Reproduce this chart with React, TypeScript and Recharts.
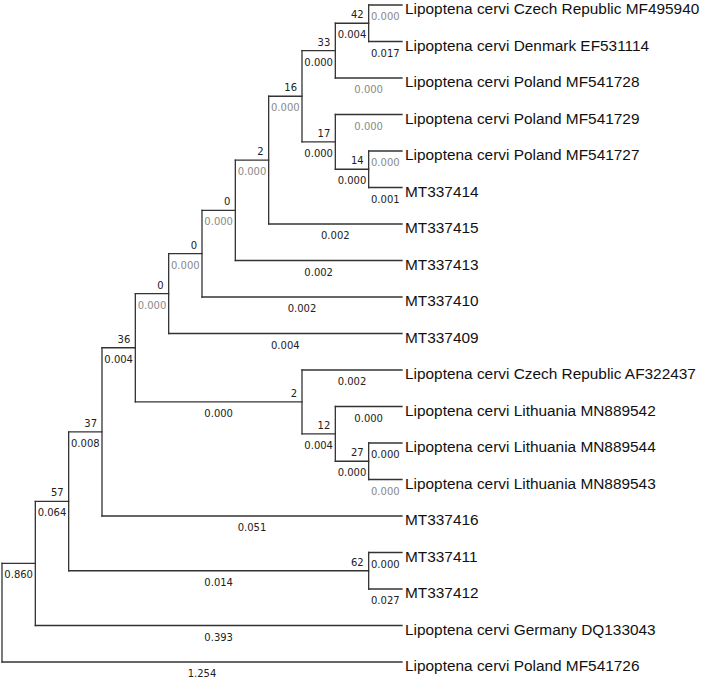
import React from "react";
import { ScatterChart, Scatter, XAxis, YAxis, ReferenceLine } from "recharts";

// tips, top to bottom
const taxa = [
  "Lipoptena cervi Czech Republic MF495940",
  "Lipoptena cervi Denmark EF531114",
  "Lipoptena cervi Poland MF541728",
  "Lipoptena cervi Poland MF541729",
  "Lipoptena cervi Poland MF541727",
  "MT337414",
  "MT337415",
  "MT337413",
  "MT337410",
  "MT337409",
  "Lipoptena cervi Czech Republic AF322437",
  "Lipoptena cervi Lithuania MN889542",
  "Lipoptena cervi Lithuania MN889544",
  "Lipoptena cervi Lithuania MN889543",
  "MT337416",
  "MT337411",
  "MT337412",
  "Lipoptena cervi Germany DQ133043",
  "Lipoptena cervi Poland MF541726",
];
const tipLengths = [
  "0.000", "0.017", "0.000", "0.000", "0.000", "0.001", "0.002", "0.002", "0.002", "0.004",
  "0.002", "0.000", "0.000", "0.000", "0.051", "0.000", "0.027", "0.393", "1.254",
];
const tipMuted = [
  true, false, true, true, true, false, false, false, false, false,
  false, false, false, true, false, false, false, false, false,
];

// internal nodes: children are tip indexes or clade ids
const cladeIds = [
  "c42", "c33", "c14", "c17", "c16", "c2a", "c0a", "c0b", "c0c",
  "c27", "c12", "c2b", "c36", "c37", "c62", "c57", "c1", "root",
];
const cladeChildren: (number | string)[][] = [
  [0, 1], ["c42", 2], [4, 5], [3, "c14"], ["c33", "c17"], ["c16", 6], ["c2a", 7], ["c0a", 8], ["c0b", 9],
  [12, 13], [11, "c27"], [10, "c12"], ["c0c", "c2b"], ["c36", 14], [15, 16], ["c37", "c62"], ["c57", 17], ["c1", 18],
];
const cladeSupport = ["42", "33", "14", "17", "16", "2", "0", "0", "0", "27", "12", "2", "36", "37", "62", "57", "", ""];
const cladeLengths = [
  "0.004", "0.000", "0.000", "0.000", "0.000", "0.000", "0.000", "0.000", "0.000",
  "0.000", "0.004", "0.000", "0.004", "0.008", "0.014", "0.064", "0.860", "",
];
const cladeMuted = [
  false, false, false, false, true, true, true, true, true,
  false, false, false, false, false, false, false, false, false,
];

type Ref = number | string;

const kids = (r: Ref) => cladeChildren[cladeIds.indexOf(r as string)];
const height = (r: Ref): number => (typeof r === "number" ? 0 : 1 + Math.max(...kids(r).map(height)));
const yOf = (r: Ref): number => {
  if (typeof r === "number") return r;
  const c = kids(r);
  return (yOf(c[0]) + yOf(c[c.length - 1])) / 2;
};
const maxDepth = height("root");
const xOf = (r: Ref) => maxDepth - height(r);

const parentOf = new Map<Ref, string>();
cladeIds.forEach((id, i) => cladeChildren[i].forEach((c) => parentOf.set(c, id)));

const segments: { x1: number; y1: number; x2: number; y2: number }[] = [];
const labels: { x: number; y: number; text: string; kind: string }[] = [];

const allRefs: Ref[] = [...taxa.map((_, i) => i), ...cladeIds];
allRefs.forEach((r) => {
  const x = xOf(r);
  const y = yOf(r);
  const p = parentOf.get(r);
  if (typeof r !== "number") {
    const c = kids(r);
    segments.push({ x1: x, y1: yOf(c[0]), x2: x, y2: yOf(c[c.length - 1]) });
  }
  if (p === undefined) return;
  const px = xOf(p);
  segments.push({ x1: px, y1: y, x2: x, y2: y });
  if (typeof r === "number") {
    labels.push({ x, y, text: taxa[r], kind: "taxon" });
    labels.push({ x: (px + x) / 2, y, text: tipLengths[r], kind: tipMuted[r] ? "muted" : "length" });
  } else {
    const i = cladeIds.indexOf(r);
    if (cladeSupport[i]) labels.push({ x, y, text: cladeSupport[i], kind: "support" });
    labels.push({ x: (px + x) / 2, y, text: cladeLengths[i], kind: cladeMuted[i] ? "muted" : "length" });
  }
});

const numFont = "'DejaVu Sans', Verdana, sans-serif";

const renderLabel = (props: any) => {
  const { cx, cy, payload } = props;
  if (payload.kind === "taxon") {
    return (
      <text x={cx + 3} y={cy + 9} fontFamily="'Liberation Sans', Arial, sans-serif" fontSize={15.4} fill="#111">
        {payload.text}
      </text>
    );
  }
  if (payload.kind === "support") {
    return (
      <text x={cx - 5} y={cy - 5} textAnchor="end" fontFamily={numFont} fontSize={10} fill="#222">
        {payload.text}
      </text>
    );
  }
  return (
    <text
      x={cx}
      y={cy + 15}
      textAnchor="middle"
      fontFamily={numFont}
      fontSize={10}
      fill={payload.kind === "muted" ? "#8a8a8a" : "#222"}
    >
      {payload.text}
    </text>
  );
};

export default function App() {
  return (
    <div style={{ position: "absolute", left: 0, top: 0, background: "#fff" }}>
      <ScatterChart width={705} height={680} margin={{ top: 5, right: 303, bottom: 18, left: 2 }}>
        <XAxis type="number" dataKey="x" domain={[0, maxDepth]} hide />
        <YAxis type="number" dataKey="y" domain={[0, taxa.length - 1]} reversed hide />
        {segments.map((s, i) => (
          <ReferenceLine
            key={i}
            segment={[{ x: s.x1, y: s.y1 }, { x: s.x2, y: s.y2 }]}
            stroke="#333"
            strokeWidth={1.3}
            strokeLinecap="square"
            ifOverflow="visible"
          />
        ))}
        <Scatter data={labels} dataKey="y" isAnimationActive={false} shape={renderLabel} />
      </ScatterChart>
    </div>
  );
}
